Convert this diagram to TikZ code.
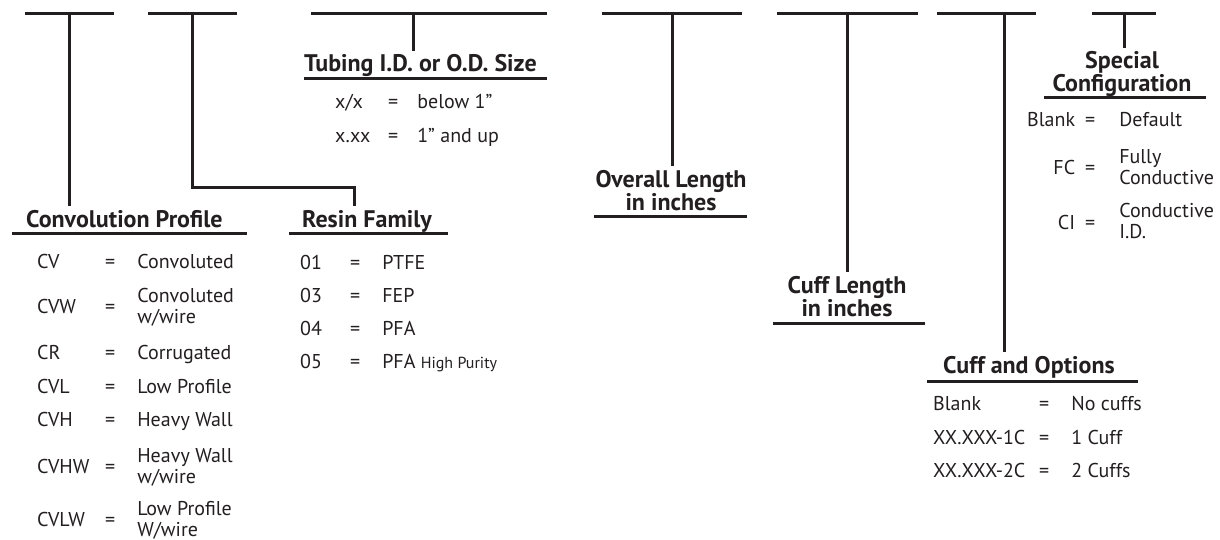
\documentclass[tikz,border=0pt]{standalone}
\usepackage{fontspec}
\setmainfont{PT Sans}
\usepackage{xcolor}
\usepackage{tikz}
\definecolor{partink}{RGB}{35, 31, 32}
\newcommand{\hdfont}{\fontsize{24}{21}\selectfont\bfseries}
\newcommand{\codefont}{\fontsize{20}{22}\selectfont}
\newcommand{\twoln}[2]{\begin{tabular}[c]{@{}l@{}}#1\\[-1pt]#2\end{tabular}}

\begin{document}
\begin{tikzpicture}[x=1pt, y=-1pt,
    rulebar/.style={rectangle, fill=partink, inner sep=0pt, minimum height=3pt},
    heading/.style={font=\hdfont, text=partink, inner xsep=0pt, inner ysep=4pt, align=center, text depth=0pt},
    codetable/.style={font=\codefont, text=partink, inner sep=0pt, anchor=base west},
    stemline/.style={draw=partink, line width=3pt}
]
    \useasboundingbox (0,0) rectangle (1220,540);

    % Part number fields
    \node[rulebar, minimum width=89pt] (b1) at (69.5,14) {};
    \node[rulebar, minimum width=89pt] (b2) at (192,14) {};
    \node[rulebar, minimum width=236pt] (b3) at (429,14) {};
    \node[rulebar, minimum width=140pt] (b4) at (672,14) {};
    \node[rulebar, minimum width=141pt] (b5) at (847.5,14) {};
    \node[rulebar, minimum width=99pt] (b6) at (986.5,14) {};
    \node[rulebar, minimum width=64pt] (b7) at (1124,14) {};

    % Headings
    \node[heading, anchor=base west] (cp) at (26,227) {Convolution Profile};
    \node[heading, anchor=base west] (rf) at (302,227) {Resin Family};
    \node[heading, anchor=base west] (ts) at (304,72) {Tubing I.D. or O.D. Size};
    \node[heading, anchor=south] (ol) at (671,215) {Overall Length\\in inches};
    \node[heading, anchor=south] (cl) at (847,321) {Cuff Length\\in inches};
    \node[heading, anchor=south] (sc) at (1122,96) {Special\\Configuration};
    \node[heading, anchor=base west] (co) at (943,373) {Cuff and Options};

    % Heading rules
    \node[rulebar, minimum width=235pt] (cp-u) at (129.5,233) {};
    \node[rulebar, minimum width=159pt] (rf-u) at (368.5,233) {};
    \node[rulebar, minimum width=243pt] (ts-u) at (425.5,79) {};
    \node[rulebar, minimum width=153pt] (ol-u) at (670.5,216) {};
    \node[rulebar, minimum width=152pt] (cl-u) at (849,323) {};
    \node[rulebar, minimum width=162pt] (sc-u) at (1125,98) {};
    \node[rulebar, minimum width=211pt] (co-u) at (1032.5,381) {};

    % Code tables
    \node[codetable] (cp-tab) at (37,268) {\begin{tabular}[t]{@{}p{68pt}@{}c@{\hspace{22pt}}l@{}}
        CV & = & Convoluted\\[12pt]
        CVW & = & \twoln{Convoluted}{w/wire}\\[24pt]
        CR & = & Corrugated\\[12pt]
        CVL & = & Low Profile\\[11pt]
        CVH & = & Heavy Wall\\[14pt]
        CVHW & = & \twoln{Heavy Wall}{w/wire}\\[20pt]
        CVLW & = & \twoln{Low Profile}{W/wire}
    \end{tabular}};
    \node[codetable] (rf-tab) at (300,269) {\begin{tabular}[t]{@{}p{50pt}@{}c@{\hspace{22pt}}l@{}}
        01 & = & PTFE\\[11pt]
        03 & = & FEP\\[11pt]
        04 & = & PFA\\[11pt]
        05 & = & PFA {\fontsize{16}{18}\selectfont High Purity}
    \end{tabular}};
    \node[codetable] (ts-tab) at (335,108.5) {\begin{tabular}[t]{@{}p{53pt}@{}c@{\hspace{19pt}}l@{}}
        x/x & = & below 1"\\[12pt]
        x.xx & = & 1" and up
    \end{tabular}};
    \node[codetable] (sc-tab) at (1027,126.5) {\begin{tabular}[t]{@{}r@{\hspace{10pt}}c@{\hspace{24pt}}l@{}}
        Blank & = & Default\\[15pt]
        FC & = & \twoln{Fully}{Conductive}\\[21pt]
        CI & = & \twoln{Conductive}{I.D.}
    \end{tabular}};
    \node[codetable] (co-tab) at (933,410.5) {\begin{tabular}[t]{@{}p{106pt}@{}c@{\hspace{22pt}}l@{}}
        Blank & = & No cuffs\\[11.5pt]
        XX.XXX-1C & = & 1 Cuff\\[11.5pt]
        XX.XXX-2C & = & 2 Cuffs
    \end{tabular}};

    % Stems from fields to headings
    \coordinate (rf-bend) at (354,188);
    \coordinate (ts-top) at (413,14);
    \coordinate (co-top) at (1004,14);
    \draw[stemline] (b1.center) -- (b1.center |- cp.north);
    \draw[stemline] (b2.center) |- (rf-bend) -- (rf-bend |- rf.north);
    \draw[stemline] (ts-top) -- (ts-top |- ts.north);
    \draw[stemline] (b4.center) -- (b4.center |- ol.north);
    \draw[stemline] (b5.center) -- (b5.center |- cl.north);
    \draw[stemline] (co-top) -- (co-top |- co.north);
    \draw[stemline] (b7.center) -- (b7.center |- sc.north);
\end{tikzpicture}
\end{document}
